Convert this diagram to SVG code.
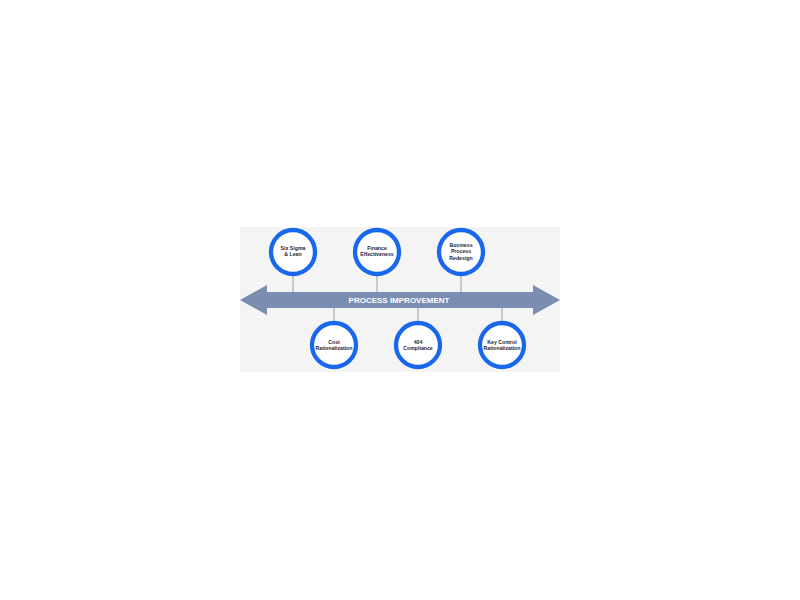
<svg xmlns="http://www.w3.org/2000/svg" width="800" height="600" viewBox="0 0 800 600">
<style>
.ring{fill:#ffffff;stroke:#1967ec;stroke-width:4.3}
.lbl{font-family:"Liberation Sans",Arial,sans-serif;font-size:5.2px;font-weight:bold;fill:#1c2338;text-anchor:middle}
.conn{stroke:#9aa0a8;stroke-width:1}
</style>
<rect x="0" y="0" width="800" height="600" fill="#ffffff"/>
<rect x="240" y="227" width="320" height="145" fill="#f4f4f4"/>
<g id="connectors">
<line class="conn" x1="293" y1="275" x2="293" y2="292"/>
<line class="conn" x1="377" y1="275" x2="377" y2="292"/>
<line class="conn" x1="461" y1="275" x2="461" y2="292"/>
<line class="conn" x1="334" y1="308" x2="334" y2="322"/>
<line class="conn" x1="418" y1="308" x2="418" y2="322"/>
<line class="conn" x1="502" y1="308" x2="502" y2="322"/>
</g>
<g id="arrow">
<polygon points="240,300 267,285 267,292 533,292 533,285 560,300 533,315 533,308 267,308 267,315" fill="#7b8db0"/>
<text x="399" y="303" font-family="'Liberation Sans',Arial,sans-serif" font-size="8" font-weight="bold" fill="#ffffff" text-anchor="middle">PROCESS IMPROVEMENT</text>
</g>
<g id="n1"><circle class="ring" cx="293" cy="252" r="22"/><text class="lbl" x="293" y="250">Six Sigma</text><text class="lbl" x="293" y="256.3">&amp; Lean</text></g>
<g id="n2"><circle class="ring" cx="377" cy="252" r="22"/><text class="lbl" x="377" y="250">Finance</text><text class="lbl" x="377" y="256.3">Effectiveness</text></g>
<g id="n3"><circle class="ring" cx="461" cy="252" r="22"/><text class="lbl" x="461" y="247">Business</text><text class="lbl" x="461" y="253.3">Process</text><text class="lbl" x="461" y="259.6">Redesign</text></g>
<g id="n4"><circle class="ring" cx="334" cy="345" r="22"/><text class="lbl" x="334" y="343.5">Cost</text><text class="lbl" x="334" y="349.8">Rationalization</text></g>
<g id="n5"><circle class="ring" cx="418" cy="345" r="22"/><text class="lbl" x="418" y="343.5">404</text><text class="lbl" x="418" y="349.8">Compliance</text></g>
<g id="n6"><circle class="ring" cx="502" cy="345" r="22"/><text class="lbl" x="502" y="343.5">Key Control</text><text class="lbl" x="502" y="349.8">Rationalization</text></g>
</svg>
